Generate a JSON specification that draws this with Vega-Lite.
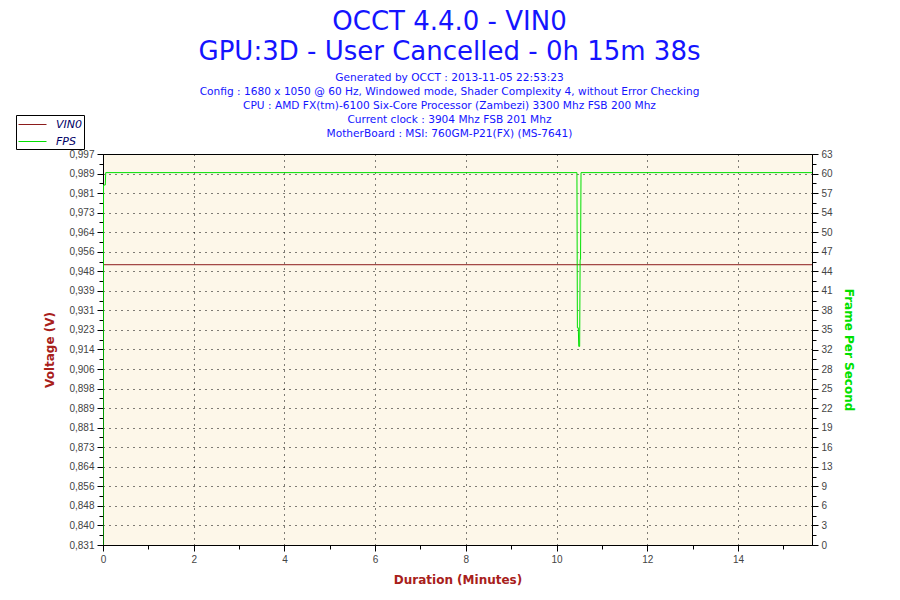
{
  "$schema": "https://vega.github.io/schema/vega-lite/v6.json",
  "width": 709,
  "height": 391,
  "autosize": {"type": "none"},
  "padding": {"left": 103, "top": 154, "right": 88, "bottom": 55},
  "background": "white",
  "config": {
    "view": {"fill": "#fdf7e9", "stroke": "black", "strokeWidth": 1},
    "font": "Liberation Sans",
    "axis": {
      "domainColor": "black",
      "tickColor": "black",
      "labelColor": "#444444",
      "labelFont": "Liberation Sans",
      "labelFontSize": 10,
      "titleFont": "DejaVu Sans",
      "titleFontSize": 12,
      "titleFontWeight": "bold",
      "gridColor": "black",
      "gridDash": [1, 5],
      "gridWidth": 1
    }
  },
  "title": {
    "text": ["OCCT 4.4.0 - VIN0", "GPU:3D - User Cancelled - 0h 15m 38s"],
    "subtitle": [
      "Generated by OCCT : 2013-11-05 22:53:23",
      "Config : 1680 x 1050 @ 60 Hz, Windowed mode, Shader Complexity 4, without Error Checking",
      "CPU : AMD FX(tm)-6100 Six-Core Processor (Zambezi) 3300 Mhz FSB 200 Mhz",
      "Current clock : 3904 Mhz FSB 201 Mhz",
      "MotherBoard : MSI: 760GM-P21(FX) (MS-7641)"
    ],
    "font": "DejaVu Sans",
    "fontSize": 26,
    "fontWeight": "normal",
    "color": "#1414ff",
    "lineHeight": 30,
    "subtitleFont": "DejaVu Sans",
    "subtitleFontSize": 10.6,
    "subtitleColor": "#1414ff",
    "subtitleLineHeight": 14,
    "subtitlePadding": 8,
    "anchor": "middle",
    "frame": "group",
    "dx": -8,
    "offset": -25
  },
  "datasets": {
    "vin": [
      {"t": 0, "v": 0.95, "series": "VIN0"},
      {"t": 15.633, "v": 0.95, "series": "VIN0"}
    ],
    "fps": [
      {"t": 0, "fps": 0, "series": "FPS"},
      {"t": 0.01, "fps": 58, "series": "FPS"},
      {"t": 0.05, "fps": 58, "series": "FPS"},
      {"t": 0.06, "fps": 60, "series": "FPS"},
      {"t": 10.45, "fps": 60, "series": "FPS"},
      {"t": 10.46, "fps": 35, "series": "FPS"},
      {"t": 10.48, "fps": 35, "series": "FPS"},
      {"t": 10.49, "fps": 32, "series": "FPS"},
      {"t": 10.51, "fps": 32, "series": "FPS"},
      {"t": 10.52, "fps": 46, "series": "FPS"},
      {"t": 10.53, "fps": 46, "series": "FPS"},
      {"t": 10.54, "fps": 60, "series": "FPS"},
      {"t": 15.633, "fps": 60, "series": "FPS"}
    ]
  },
  "layer": [
    {
      "data": {"name": "vin"},
      "mark": {"type": "line", "strokeWidth": 1, "clip": true},
      "encoding": {
        "x": {
          "field": "t",
          "type": "quantitative",
          "scale": {"domain": [0, 15.633], "nice": false, "zero": false},
          "axis": {
            "title": "Duration (Minutes)",
            "titleColor": "#a8201a",
            "titlePadding": 10,
            "values": [0, 0.5, 1, 1.5, 2, 2.5, 3, 3.5, 4, 4.5, 5, 5.5, 6, 6.5, 7, 7.5, 8, 8.5, 9, 9.5, 10, 10.5, 11, 11.5, 12, 12.5, 13, 13.5, 14, 14.5, 15, 15.5],
            "labelExpr": "datum.value % 2 == 0 ? format(datum.value, 'd') : ''",
            "tickSize": {"condition": {"test": "datum.value % 2 == 0", "value": 6}, "value": 4},
            "grid": true,
            "gridOpacity": {"condition": {"test": "datum.value % 2 == 0 && datum.value > 0", "value": 1}, "value": 0},
            "labelPadding": 3,
            "labelFlush": false,
            "labelOverlap": false
          }
        },
        "y": {
          "field": "v",
          "type": "quantitative",
          "scale": {"domain": [0.831, 0.997], "nice": false, "zero": false},
          "axis": {
            "orient": "left",
            "title": "Voltage (V)",
            "titleColor": "#a8201a",
            "titlePadding": 12,
            "values": [0.831, 0.83515, 0.8393, 0.84345, 0.8476, 0.85175, 0.8559, 0.86005, 0.8642, 0.86835, 0.8725, 0.87665, 0.8808, 0.88495, 0.8891, 0.89325, 0.8974, 0.90155, 0.9057, 0.90985, 0.914, 0.91815, 0.9223, 0.92645, 0.9306, 0.93475, 0.9389, 0.94305, 0.9472, 0.95135, 0.9555, 0.95965, 0.9638, 0.96795, 0.9721, 0.97625, 0.9804, 0.98455, 0.9887, 0.99285, 0.997],
            "labelExpr": "round((datum.value - 0.831) / 0.00415) % 2 == 0 ? ['0,831','0,840','0,848','0,856','0,864','0,873','0,881','0,889','0,898','0,906','0,914','0,923','0,931','0,939','0,948','0,956','0,964','0,973','0,981','0,989','0,997'][round((datum.value - 0.831) / 0.0083)] : ''",
            "tickSize": {"condition": {"test": "round((datum.value - 0.831) / 0.00415) % 2 == 0", "value": 6}, "value": 4},
            "grid": true,
            "gridOpacity": {"condition": {"test": "round((datum.value - 0.831) / 0.00415) % 2 == 0", "value": 1}, "value": 0},
            "labelPadding": 3,
            "labelFlush": false,
            "labelOverlap": false
          }
        },
        "color": {
          "field": "series",
          "type": "nominal",
          "scale": {"domain": ["VIN0", "FPS"], "range": ["#8c1c1c", "#00e000"]},
          "legend": {
            "title": null,
            "orient": "none",
            "legendX": -87,
            "legendY": -39,
            "fillColor": "white",
            "strokeColor": "black",
            "padding": 2,
            "symbolType": "M-1,0H3",
            "symbolSize": 196,
            "symbolStrokeWidth": 1,
            "labelFont": "DejaVu Sans",
            "labelFontSize": 11,
            "labelFontStyle": "italic",
            "labelColor": "#000066",
            "labelOffset": 23,
            "rowPadding": 4
          }
        }
      }
    },
    {
      "data": {"name": "fps"},
      "mark": {"type": "line", "strokeWidth": 1, "clip": true},
      "encoding": {
        "x": {"field": "t", "type": "quantitative"},
        "y": {
          "field": "fps",
          "type": "quantitative",
          "scale": {"domain": [0, 63], "nice": false, "zero": false},
          "axis": {
            "orient": "right",
            "title": "Frame Per Second",
            "titleColor": "#00e000",
            "titlePadding": 9,
            "values": [0, 1.575, 3.15, 4.725, 6.3, 7.875, 9.45, 11.025, 12.6, 14.175, 15.75, 17.325, 18.9, 20.475, 22.05, 23.625, 25.2, 26.775, 28.35, 29.925, 31.5, 33.075, 34.65, 36.225, 37.8, 39.375, 40.95, 42.525, 44.1, 45.675, 47.25, 48.825, 50.4, 51.975, 53.55, 55.125, 56.7, 58.275, 59.85, 61.425, 63],
            "labelExpr": "round(datum.value / 1.575) % 2 == 0 ? format(datum.value, '.0f') : ''",
            "tickSize": {"condition": {"test": "round(datum.value / 1.575) % 2 == 0", "value": 6}, "value": 4},
            "grid": false,
            "labelPadding": 3,
            "labelFlush": false,
            "labelOverlap": false
          }
        },
        "color": {"field": "series", "type": "nominal"}
      }
    }
  ],
  "resolve": {"scale": {"y": "independent"}}
}
